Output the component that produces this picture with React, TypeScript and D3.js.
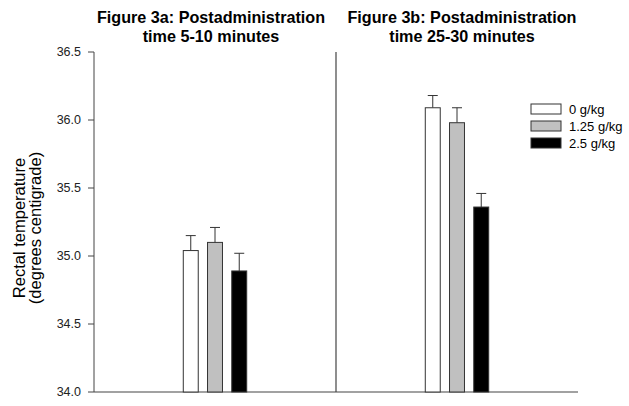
import React from "react";
import * as d3 from "d3";

const panels = ["Figure 3a: Postadministration|time 5-10 minutes", "Figure 3b: Postadministration|time 25-30 minutes"];
const series = ["0 g/kg", "1.25 g/kg", "2.5 g/kg"];
const fills = ["#ffffff", "#c0c0c0", "#000000"];
const meansA = [35.04, 35.1, 34.89];
const errA = [35.15, 35.21, 35.02];
const meansB = [36.09, 35.98, 35.36];
const errB = [36.18, 36.09, 35.46];
const yTicks = [34.0, 34.5, 35.0, 35.5, 36.0, 36.5];

const W = 629;
const H = 406;
const left = 94;
const right = 578;
const top = 52;
const bottom = 392;

export default function App() {
  const y = d3.scaleLinear().domain([34, 36.5]).range([bottom, top]);
  const x0 = d3.scaleBand<number>().domain([0, 1]).range([left, right]).padding(0);
  const x1 = d3.scaleBand<string>().domain(series).range([-41, 41]).padding(0.383);
  const data = [
    { means: meansA, errs: errA },
    { means: meansB, errs: errB },
  ];
  const font = "Liberation Sans, Arial, sans-serif";
  const divider = x0(1)!;
  const titleShift = [-4, 5];
  return (
    <svg width={W} height={H} style={{ position: "absolute", left: 0, top: 0, background: "#fff" }} fontFamily={font}>
      {panels.map((t, i) => {
        const cx = x0(i)! + x0.bandwidth() / 2 + titleShift[i];
        const [l1, l2] = t.split("|");
        return (
          <g key={i} transform={`translate(${cx},0) scale(0.98,1)`}>
            <text x={0} y={23.5} textAnchor="middle" fontWeight="bold" fontSize={16.5} fill="#000">{l1}</text>
            <text x={0} y={42.5} textAnchor="middle" fontWeight="bold" fontSize={16.5} fill="#000">{l2}</text>
          </g>
        );
      })}
      <line x1={left} x2={left} y1={top} y2={bottom} stroke="#444" strokeWidth={1} />
      {yTicks.map((t) => (
        <g key={t}>
          <line x1={left - 6} x2={left} y1={y(t)} y2={y(t)} stroke="#444" />
          <text x={left - 13} y={y(t)} dy="0.35em" textAnchor="end" fontSize={12.5} fill="#222">
            {t.toFixed(1)}
          </text>
        </g>
      ))}
      <line x1={left} x2={right} y1={bottom} y2={bottom} stroke="#444" strokeWidth={1.2} />
      <line x1={divider} x2={divider} y1={top} y2={bottom} stroke="#444" strokeWidth={1.2} />
      <text transform={`translate(0,228) rotate(-90)`} textAnchor="middle" fontSize={16.5} fill="#000">
        <tspan x={0} y={25}>Rectal temperature</tspan>
        <tspan x={0} y={41}>(degrees centigrade)</tspan>
      </text>
      {data.map((d, i) => {
        const cx = x0(i)! + x0.bandwidth() / 2;
        return (
          <g key={i}>
            {series.map((s, j) => {
              const bx = cx + x1(s)!;
              const bw = x1.bandwidth();
              const mx = bx + bw / 2;
              return (
                <g key={s}>
                  <line x1={mx} x2={mx} y1={y(d.means[j])} y2={y(d.errs[j])} stroke="#333" strokeWidth={1} />
                  <line x1={mx - 5} x2={mx + 5} y1={y(d.errs[j])} y2={y(d.errs[j])} stroke="#333" strokeWidth={1} />
                  <rect x={bx} y={y(d.means[j])} width={bw} height={bottom - y(d.means[j])} fill={fills[j]} stroke="#333" strokeWidth={1} />
                </g>
              );
            })}
          </g>
        );
      })}
      {series.map((s, j) => (
        <g key={s} transform={`translate(531,${104 + j * 17})`}>
          <rect x={0} y={0} width={30} height={10} fill={fills[j]} stroke="#333" strokeWidth={1} />
          <text x={38} y={5} dy="0.38em" fontSize={13} fill="#000">{s}</text>
        </g>
      ))}
    </svg>
  );
}
